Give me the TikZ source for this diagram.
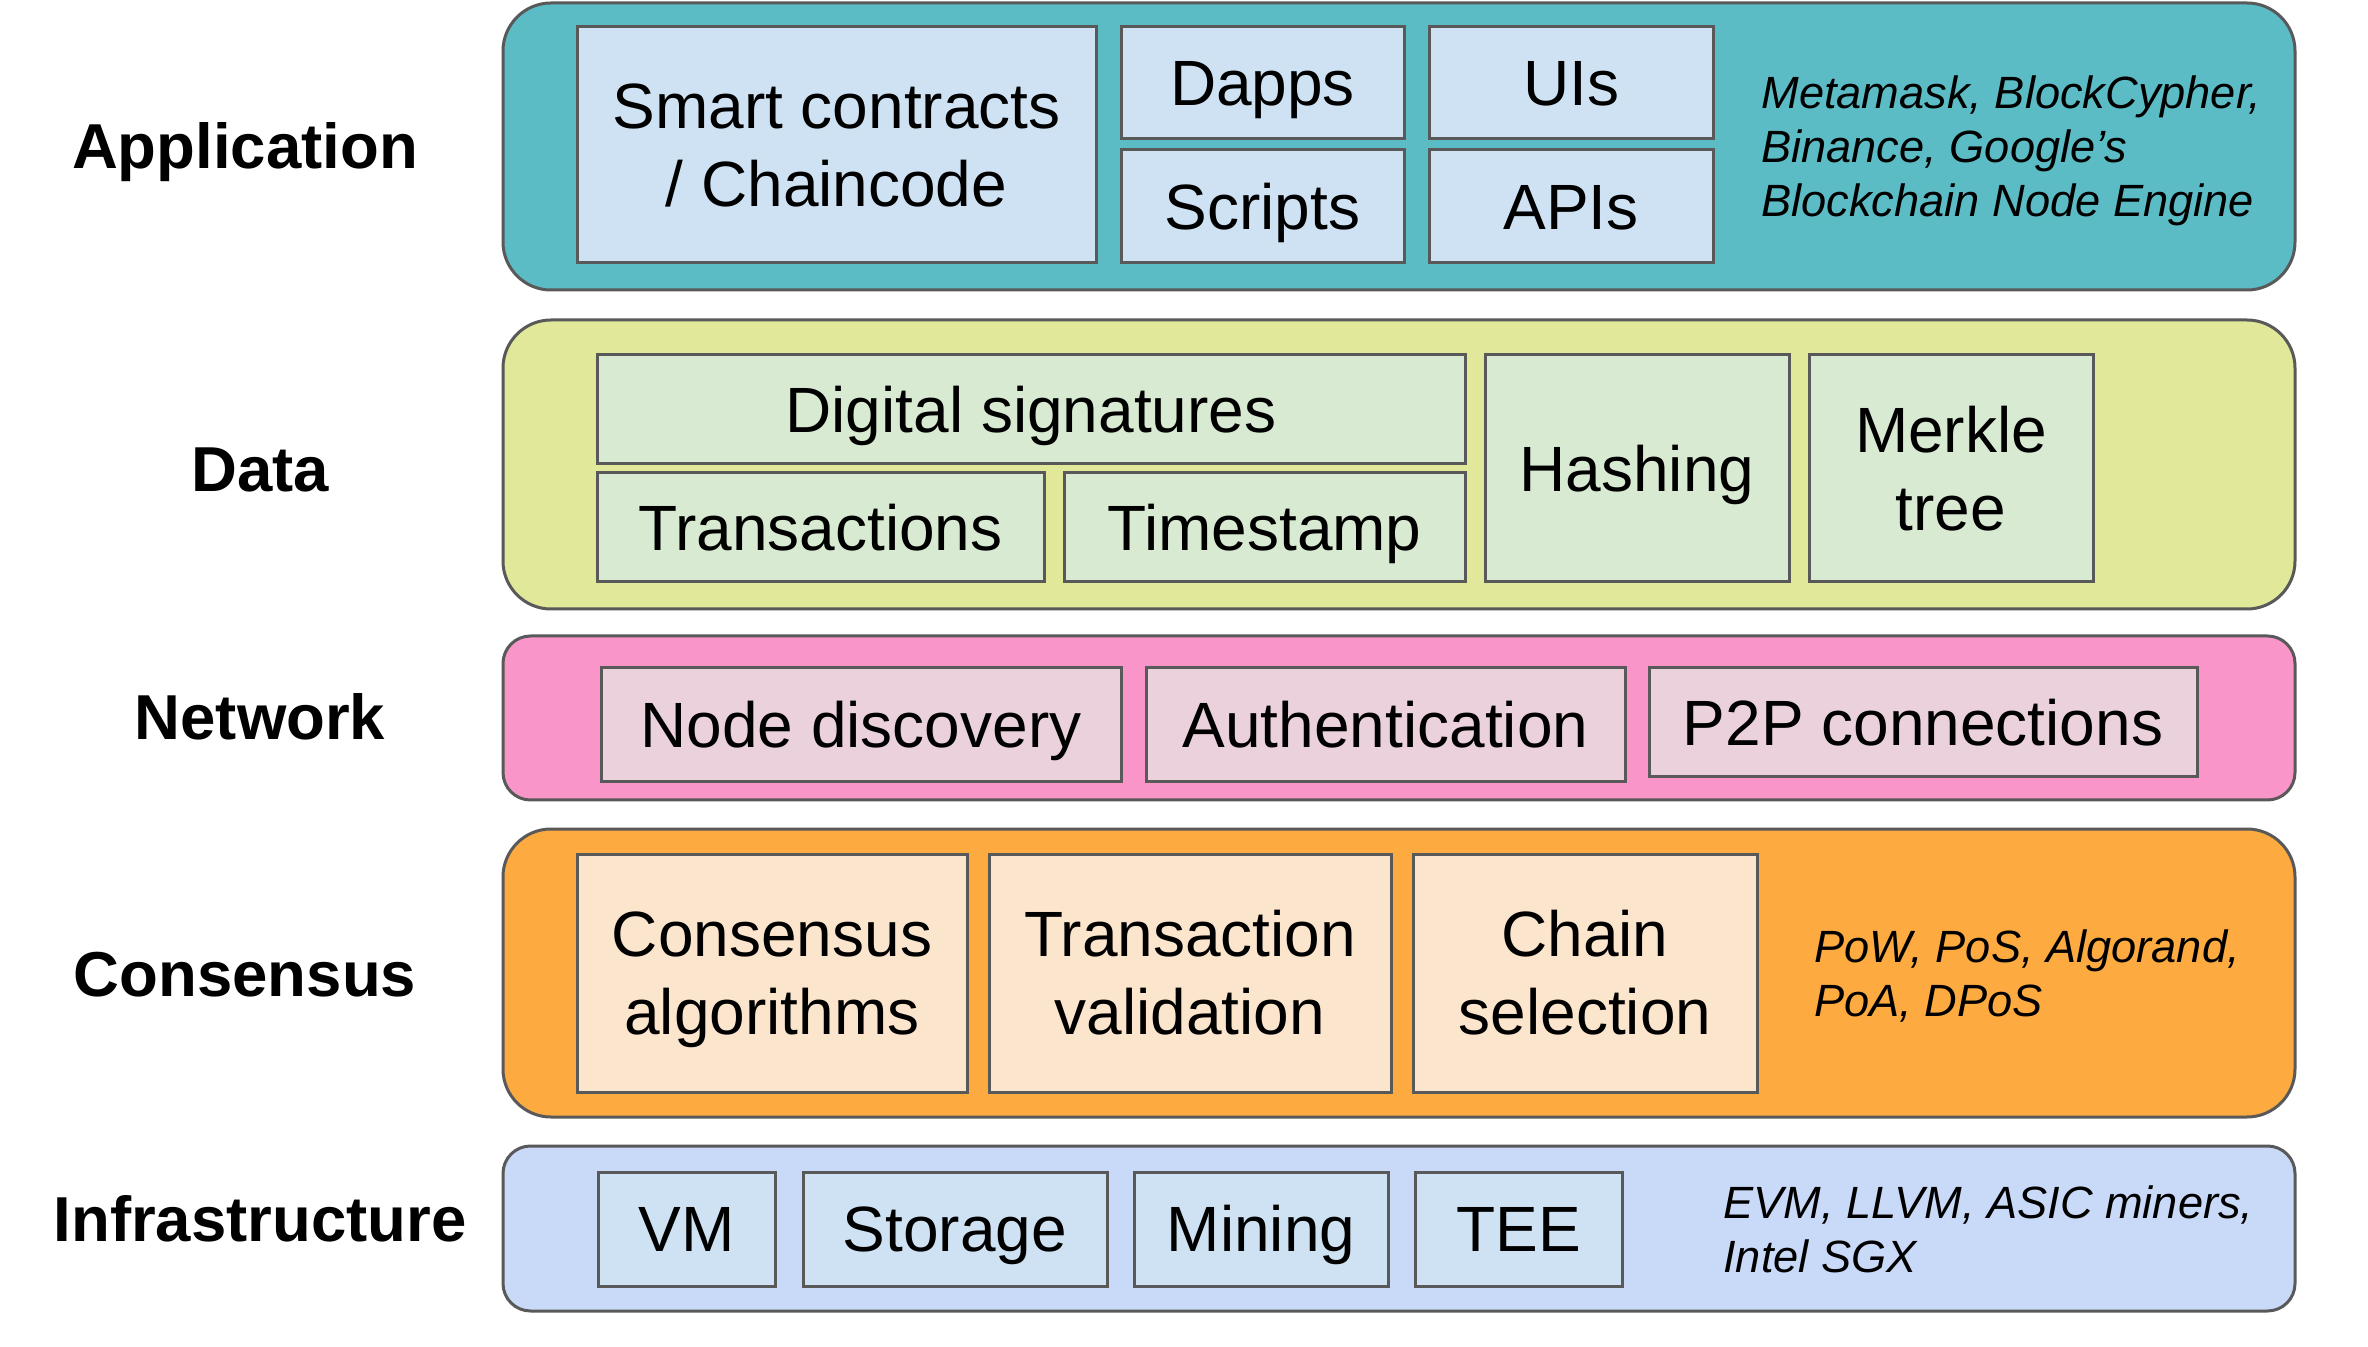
\documentclass[tikz,border=0pt]{standalone}
\usepackage{fontspec}
\setmainfont{Liberation Sans}
\definecolor{bordc}{HTML}{595959}
\definecolor{appfill}{HTML}{5CBCC6}
\definecolor{appin}{HTML}{CFE2F3}
\definecolor{datafill}{HTML}{E2E899}
\definecolor{datain}{HTML}{D9EAD3}
\definecolor{netfill}{HTML}{F995C8}
\definecolor{netin}{HTML}{EAD1DC}
\definecolor{consfill}{HTML}{FDAB40}
\definecolor{consin}{HTML}{FCE5CD}
\definecolor{infrafill}{HTML}{C9DAF8}
\definecolor{infrain}{HTML}{CFE2F3}
\newcommand{\tstr}{\rule{0pt}{0.966em}}
\newcommand{\bstr}{\rule[-0.25em]{0pt}{0.25em}}
\begin{document}
\begin{tikzpicture}[x=0.5pt,y=-0.5pt,
  rect/.style args={#1,#2,#3,#4}{minimum width={(#3-#1)*0.5pt},
    minimum height={(#4-#2)*0.5pt}, at={({(#1+#3)/2},{(#2+#4)/2})}},
  layerbox/.style={draw=bordc, line width=1.5pt, inner sep=0pt},
  biglayer/.style={layerbox, rounded corners=24pt},
  smalllayer/.style={layerbox, rounded corners=13.75pt},
  ibox/.style={draw=bordc, line width=1.5pt, inner sep=0pt, align=center,
    font=\fontsize{32}{39}\selectfont},
  oneline/.style={text height=22.9pt, text depth=0pt},
  lab/.style={inner sep=0pt, font=\fontsize{31.75}{38}\selectfont\bfseries,
    text height=22.7pt, text depth=0pt},
  side/.style={inner sep=0pt, anchor=west, align=left,
    font=\fontsize{22.6}{27}\selectfont\itshape}]
\useasboundingbox (0,0) rectangle (2368,1347);

% layers
\node[biglayer, fill=appfill, rect={503,3,2295,290}] (applayer) {};
\node[biglayer, fill=datafill, rect={503,320,2295,609}] (datalayer) {};
\node[smalllayer, fill=netfill, rect={503,636,2295,800}] (netlayer) {};
\node[biglayer, fill=consfill, rect={503,829,2295,1117}] (conslayer) {};
\node[smalllayer, fill=infrafill, rect={503,1146,2295,1311}] (infralayer) {};

% labels
\node[lab] (lapp) at (245,146) {Application};
\node[lab] (ldata) at (260,469) {Data};
\node[lab] (lnet) at (260,717) {Network};
\node[lab] (lcons) at (245,974) {Consensus};
\node[lab] (linfra) at (260,1219) {Infrastructure};

% application
\node[ibox, fill=appin, rect={577,27,1096,263}] (sc) {\tstr Smart contracts\\/ Chaincode\bstr};
\node[ibox, oneline, fill=appin, rect={1121,27,1404,139}] (dapps) {Dapps};
\node[ibox, oneline, fill=appin, rect={1121,150,1404,263}] (scripts) {Scripts};
\node[ibox, oneline, fill=appin, rect={1429,27,1713,139}] (uis) {UIs};
\node[ibox, oneline, fill=appin, rect={1429,150,1713,263}] (apis) {APIs};
\node[side] (appex) at (1761,146) {\tstr Metamask, BlockCypher,\\Binance, Google’s\\Blockchain Node Engine\bstr};

% data
\node[ibox, oneline, fill=datain, rect={597,355,1465,464}] (digsig) {Digital signatures};
\node[ibox, oneline, fill=datain, rect={597,473,1044,582}] (trans) {Transactions};
\node[ibox, oneline, fill=datain, rect={1064,473,1465,582}] (tstamp) {Timestamp};
\node[ibox, oneline, fill=datain, rect={1485,355,1789,582}] (hashing) {Hashing};
\node[ibox, fill=datain, rect={1809,355,2093,582}] (merkle) {\tstr Merkle\\tree\bstr};

% network
\node[ibox, oneline, fill=netin, rect={601,668,1121,782}] (nodedisc) {Node discovery};
\node[ibox, oneline, fill=netin, rect={1146,668,1625,782}] (auth) {Authentication};
\node[ibox, oneline, fill=netin, rect={1649,668,2197,777}] (p2p) {P2P connections};

% consensus
\node[ibox, fill=consin, rect={577,854,967,1092}] (calg) {\tstr Consensus\\algorithms\bstr};
\node[ibox, fill=consin, rect={989,854,1391,1092}] (tval) {\tstr Transaction\\validation\bstr};
\node[ibox, fill=consin, rect={1413,854,1757,1092}] (csel) {\tstr Chain\\selection\bstr};
\node[side] (consex) at (1814,973) {\tstr PoW, PoS, Algorand,\\PoA, DPoS\bstr};

% infrastructure
\node[ibox, oneline, fill=infrain, rect={598,1172,775,1286}] (vm) {VM};
\node[ibox, oneline, fill=infrain, rect={803,1172,1107,1286}] (storage) {Storage};
\node[ibox, oneline, fill=infrain, rect={1134,1172,1388,1286}] (mining) {Mining};
\node[ibox, oneline, fill=infrain, rect={1415,1172,1622,1286}] (tee) {TEE};
\node[side] (infraex) at (1723,1229) {\tstr EVM, LLVM, ASIC miners,\\Intel SGX\bstr};
\end{tikzpicture}
\end{document}
